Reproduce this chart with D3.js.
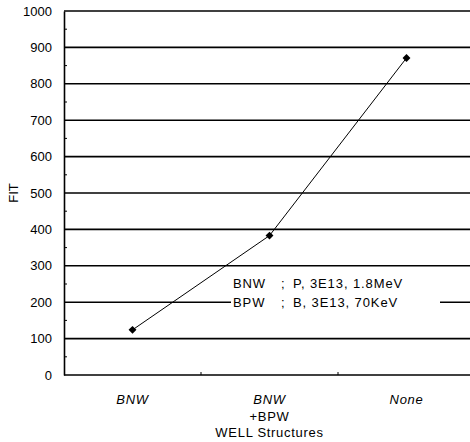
<!DOCTYPE html>
<html><head><meta charset="utf-8">
<script src="https://cdn.jsdelivr.net/npm/d3@7"></script>
<style>body{margin:0;background:#fff}svg{display:block}text{font-family:Arial,"Liberation Sans",sans-serif;fill:#000}</style>
</head><body><div id="c"></div>
<script>
const categories = ["BNW", "BNW+BPW", "None"];
const fitValues = [124, 383, 871];
const yTicks = [0,100,200,300,400,500,600,700,800,900,1000];
const minorTicks = [50,150,250,350,450,550,650,750,850,950];
const annotation = [["BNW", ";", "P, 3E13, 1.8MeV"], ["BPW", ";", "B, 3E13, 70KeV"]];

const W = 470, H = 442;
const svg = d3.select("#c").append("svg").attr("width", W).attr("height", H);
const x = d3.scaleBand().domain(categories).range([64, 475]).padding(0);
const y = d3.scaleLinear().domain([0, 1000]).range([375, 11]);

// gridlines
svg.append("g").selectAll("line").data(yTicks).join("line")
  .attr("x1", 64).attr("x2", W).attr("y1", d => y(d)).attr("y2", d => y(d))
  .attr("stroke", "#000").attr("stroke-width", 1.6);

// y axis
const ya = svg.append("g").attr("transform", "translate(64,0)")
  .call(d3.axisLeft(y).tickValues(yTicks).tickFormat(d3.format("d")).tickSize(0).tickPadding(12));
ya.select(".domain").attr("stroke-width", 1.6);
ya.selectAll("text").attr("font-size", 13).attr("font-family", "Arial, 'Liberation Sans', sans-serif");
svg.append("g").selectAll("line").data(minorTicks).join("line")
  .attr("x1", 64).attr("x2", 67).attr("y1", d => y(d)).attr("y2", d => y(d))
  .attr("stroke", "#000").attr("stroke-width", 1);

// bottom category separators
svg.append("g").selectAll("line").data(categories.slice(1)).join("line")
  .attr("x1", d => x(d)).attr("x2", d => x(d)).attr("y1", 375).attr("y2", 372)
  .attr("stroke", "#000").attr("stroke-width", 1);

// annotation box
const box = svg.append("g").attr("font-size", 13).attr("letter-spacing", "0.9px");
box.append("rect").attr("x", 231).attr("y", 272).attr("width", 209).attr("height", 40).attr("fill", "#fff");
annotation.forEach((row, i) => {
  const yy = 288 + i * 19;
  box.append("text").attr("x", 233).attr("y", yy).text(row[0]);
  box.append("text").attr("x", 281).attr("y", yy).text(row[1]);
  box.append("text").attr("x", 293).attr("y", yy).text(row[2]);
});

// line
const cx = d => x(d) + x.bandwidth() / 2;
const pts = categories.map((c, i) => [cx(c), y(fitValues[i])]);
svg.append("path").attr("d", d3.line()(pts)).attr("fill", "none").attr("stroke", "#000").attr("stroke-width", 1);
svg.append("g").selectAll("path").data(pts).join("path")
  .attr("transform", d => `translate(${d[0]},${d[1]})`)
  .attr("d", d3.symbol().type(d3.symbolDiamond2).size(40)).attr("fill", "#000");

// x labels
const xl = svg.append("g").attr("font-size", 13).attr("letter-spacing", "0.7px");
xl.append("text").attr("x", cx("BNW")).attr("y", 404).attr("text-anchor", "middle").attr("font-style", "italic").text("BNW");
xl.append("text").attr("x", cx("BNW+BPW")).attr("y", 404).attr("text-anchor", "middle").attr("font-style", "italic").text("BNW");
xl.append("text").attr("x", cx("BNW+BPW")).attr("y", 421).attr("text-anchor", "middle").text("+BPW");
xl.append("text").attr("x", cx("None")).attr("y", 404).attr("text-anchor", "middle").attr("font-style", "italic").text("None");
xl.append("text").attr("x", cx("BNW+BPW")).attr("y", 437).attr("text-anchor", "middle").text("WELL Structures");

// y title
svg.append("text").attr("transform", "translate(18,193) rotate(-90)").attr("text-anchor", "middle").attr("font-size", 13).text("FIT");
</script></body></html>
